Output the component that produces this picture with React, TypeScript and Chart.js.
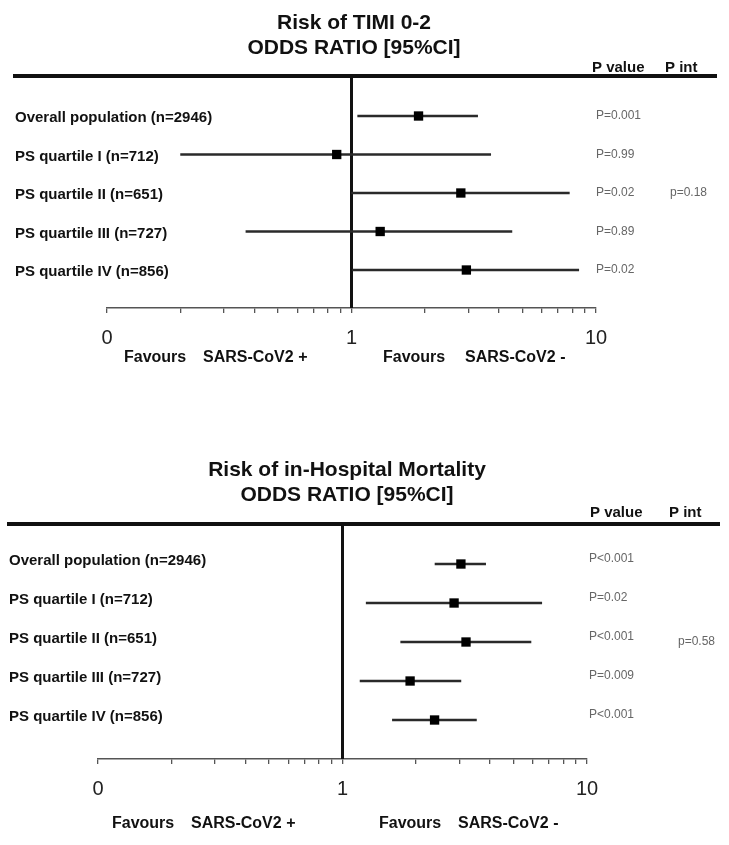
import React, { useEffect, useRef } from 'react';
import { Chart, registerables } from 'chart.js';

Chart.register(...registerables);

// ---------- data ----------
const rowLabels = [
  'Overall population (n=2946)',
  'PS quartile I (n=712)',
  'PS quartile II (n=651)',
  'PS quartile III (n=727)',
  'PS quartile IV (n=856)',
];

// Risk of TIMI 0-2
const timiOR = [1.88, 0.87, 2.8, 1.31, 2.95];
const timiLow = [1.06, 0.2, 1.0, 0.37, 1.01];
const timiHigh = [3.28, 3.71, 7.78, 4.53, 8.5];
const timiP = ['P=0.001', 'P=0.99', 'P=0.02', 'P=0.89', 'P=0.02'];
const timiPint = 'p=0.18';

// Risk of in-Hospital Mortality
const mortOR = [3.05, 2.86, 3.2, 1.89, 2.38];
const mortLow = [2.39, 1.25, 1.73, 1.18, 1.6];
const mortHigh = [3.85, 6.53, 5.9, 3.05, 3.53];
const mortP = ['P<0.001', 'P=0.02', 'P<0.001', 'P=0.009', 'P<0.001'];
const mortPint = 'p=0.58';

const pIntRow = 2;

const axisTicks = [0.1, 0.2, 0.3, 0.4, 0.5, 0.6, 0.7, 0.8, 0.9, 1, 2, 3, 4, 5, 6, 7, 8, 9, 10];
const axisTickLabels: Record<string, string> = { '0.1': '0', '1': '1', '10': '10' };

const FONT = '"Liberation Sans", Arial, sans-serif';

// ---------- panels ----------
const panels = [
  {
    title1: 'Risk of TIMI 0-2',
    title2: 'ODDS RATIO [95%CI]',
    or: timiOR, low: timiLow, high: timiHigh, p: timiP, pint: timiPint,
    geo: {
      height: 420, padLeft: 15, labelAxisW: 92, pAxisW: 74, pIntAxisW: 59,
      padTop: 76, xAxisH: 45, padBottom: 67, yMin: -1.039, yMax: 4.987,
      headerLine: [13, 717], titleX: 354, titleY: [23, 48], headY: 68, headX: [592, 665],
      favY: 358, favX: [124, 203, 383, 465], rowLabelOffset: 2, pOffset: 0, pPad: 0,
    },
  },
  {
    title1: 'Risk of in-Hospital Mortality',
    title2: 'ODDS RATIO [95%CI]',
    or: mortOR, low: mortLow, high: mortHigh, p: mortP, pint: mortPint,
    geo: {
      height: 425, padLeft: 9, labelAxisW: 89, pAxisW: 91, pIntAxisW: 51,
      padTop: 104, xAxisH: 45, padBottom: 41, yMin: -1.026, yMax: 5.0,
      headerLine: [7, 720], titleX: 347, titleY: [50, 75], headY: 93, headX: [590, 669],
      favY: 404, favX: [112, 191, 379, 458], rowLabelOffset: -3, pOffset: -5, pPad: 2,
    },
  },
];

function makeConfig(panel: any): any {
  const g = panel.geo;
  const decor = {
    id: 'decor',
    beforeDatasetsDraw(chart: any) {
      const ctx = chart.ctx;
      const area = chart.chartArea;
      ctx.save();
      ctx.strokeStyle = '#111';
      ctx.lineWidth = 4;
      ctx.beginPath();
      ctx.moveTo(g.headerLine[0], area.top);
      ctx.lineTo(g.headerLine[1], area.top);
      ctx.stroke();
      const x1 = chart.scales.x.getPixelForValue(1);
      ctx.lineWidth = 3;
      ctx.beginPath();
      ctx.moveTo(x1, area.top);
      ctx.lineTo(x1, area.bottom);
      ctx.stroke();
      ctx.restore();
    },
    afterDraw(chart: any) {
      const ctx = chart.ctx;
      ctx.save();
      ctx.fillStyle = '#111';
      ctx.textAlign = 'center';
      ctx.textBaseline = 'middle';
      ctx.font = `bold 21px ${FONT}`;
      ctx.fillText(panel.title1, g.titleX, g.titleY[0]);
      ctx.fillText(panel.title2, g.titleX, g.titleY[1]);
      ctx.textAlign = 'left';
      ctx.font = `bold 15px ${FONT}`;
      ctx.fillText('P value', g.headX[0], g.headY);
      ctx.fillText('P int', g.headX[1], g.headY);
      ctx.font = `bold 16px ${FONT}`;
      ctx.fillText('Favours', g.favX[0], g.favY);
      ctx.fillText('SARS-CoV2 +', g.favX[1], g.favY);
      ctx.fillText('Favours', g.favX[2], g.favY);
      ctx.fillText('SARS-CoV2 -', g.favX[3], g.favY);
      ctx.restore();
    },
  };

  const rows = panel.or.map((_: number, i: number) => i);

  const rowAxisBase = {
    type: 'linear',
    reverse: true,
    offset: false,
    min: g.yMin,
    max: g.yMax,
    grid: { display: false, drawTicks: false, offset: false },
    border: { display: false },
  };

  return {
    type: 'bar',
    data: {
      datasets: [
        {
          type: 'line',
          data: panel.or.map((v: number, i: number) => ({ x: v, y: i })),
          showLine: false,
          pointStyle: 'rect',
          pointRadius: 6.6,
          pointBackgroundColor: '#000',
          pointBorderColor: '#000',
          pointBorderWidth: 0,
          xAxisID: 'x',
          yAxisID: 'y',
          order: 1,
        },
        {
          type: 'bar',
          data: panel.low.map((l: number, i: number) => ({ x: [l, panel.high[i]], y: i })),
          backgroundColor: '#2a2a2a',
          barThickness: 2,
          xAxisID: 'x',
          yAxisID: 'y',
          order: 2,
        },
      ],
    },
    options: {
      indexAxis: 'y',
      responsive: false,
      animation: false,
      devicePixelRatio: 1,
      events: [],
      layout: { padding: { left: g.padLeft, right: 0, top: g.padTop, bottom: g.padBottom } },
      plugins: { legend: { display: false }, tooltip: { enabled: false }, title: { display: false } },
      scales: {
        x: {
          type: 'logarithmic',
          position: 'bottom',
          min: 0.1,
          max: 10,
          offset: false,
          afterBuildTicks: (s: any) => {
            s.ticks = axisTicks.map((v) => ({ value: v, major: v === 0.1 || v === 1 || v === 10 }));
          },
          afterFit: (s: any) => { s.height = g.xAxisH; },
          grid: { display: true, drawOnChartArea: false, drawTicks: true, tickLength: 5, color: '#555', lineWidth: 1.3 },
          border: { display: true, color: '#555', width: 1.6 },
          ticks: {
            autoSkip: false,
            maxRotation: 0,
            padding: 13,
            color: '#222',
            font: { family: FONT, size: 20 },
            callback: (v: any) => axisTickLabels[String(v)] ?? '',
          },
        },
        y: {
          ...rowAxisBase,
          position: 'left',
          afterBuildTicks: (s: any) => { s.ticks = rows.map((r: number) => ({ value: r })); },
          afterFit: (s: any) => { s.width = g.labelAxisW; },
          ticks: {
            mirror: true,
            crossAlign: 'near',
            padding: -g.labelAxisW,
            color: '#111',
            labelOffset: g.rowLabelOffset,
            font: { family: FONT, size: 15, weight: 'bold' },
            callback: (_v: any, i: number) => rowLabels[i],
          },
        },
        yP: {
          ...rowAxisBase,
          position: 'right',
          weight: 0,
          afterBuildTicks: (s: any) => { s.ticks = rows.map((r: number) => ({ value: r })); },
          afterFit: (s: any) => { s.width = g.pAxisW; },
          ticks: {
            crossAlign: 'near',
            padding: g.pPad,
            color: '#666',
            labelOffset: g.pOffset,
            font: { family: FONT, size: 12 },
            callback: (_v: any, i: number) => panel.p[i],
          },
        },
        yI: {
          ...rowAxisBase,
          position: 'right',
          weight: 1,
          afterBuildTicks: (s: any) => { s.ticks = [{ value: pIntRow }]; },
          afterFit: (s: any) => { s.width = g.pIntAxisW; },
          ticks: {
            crossAlign: 'near',
            padding: 0,
            color: '#666',
            font: { family: FONT, size: 12 },
            callback: () => panel.pint,
          },
        },
      },
    },
    plugins: [decor],
  };
}

function ForestPanel({ panel }: { panel: any }) {
  const ref = useRef<HTMLCanvasElement>(null);
  useEffect(() => {
    const chart = new Chart(ref.current as HTMLCanvasElement, makeConfig(panel));
    return () => chart.destroy();
  }, [panel]);
  return <canvas ref={ref} width={729} height={panel.geo.height} style={{ display: 'block' }} />;
}

export default function App() {
  return (
    <div style={{ position: 'absolute', left: 0, top: 0, width: 729, height: 845, background: '#fff' }}>
      <ForestPanel panel={panels[0]} />
      <ForestPanel panel={panels[1]} />
    </div>
  );
}
